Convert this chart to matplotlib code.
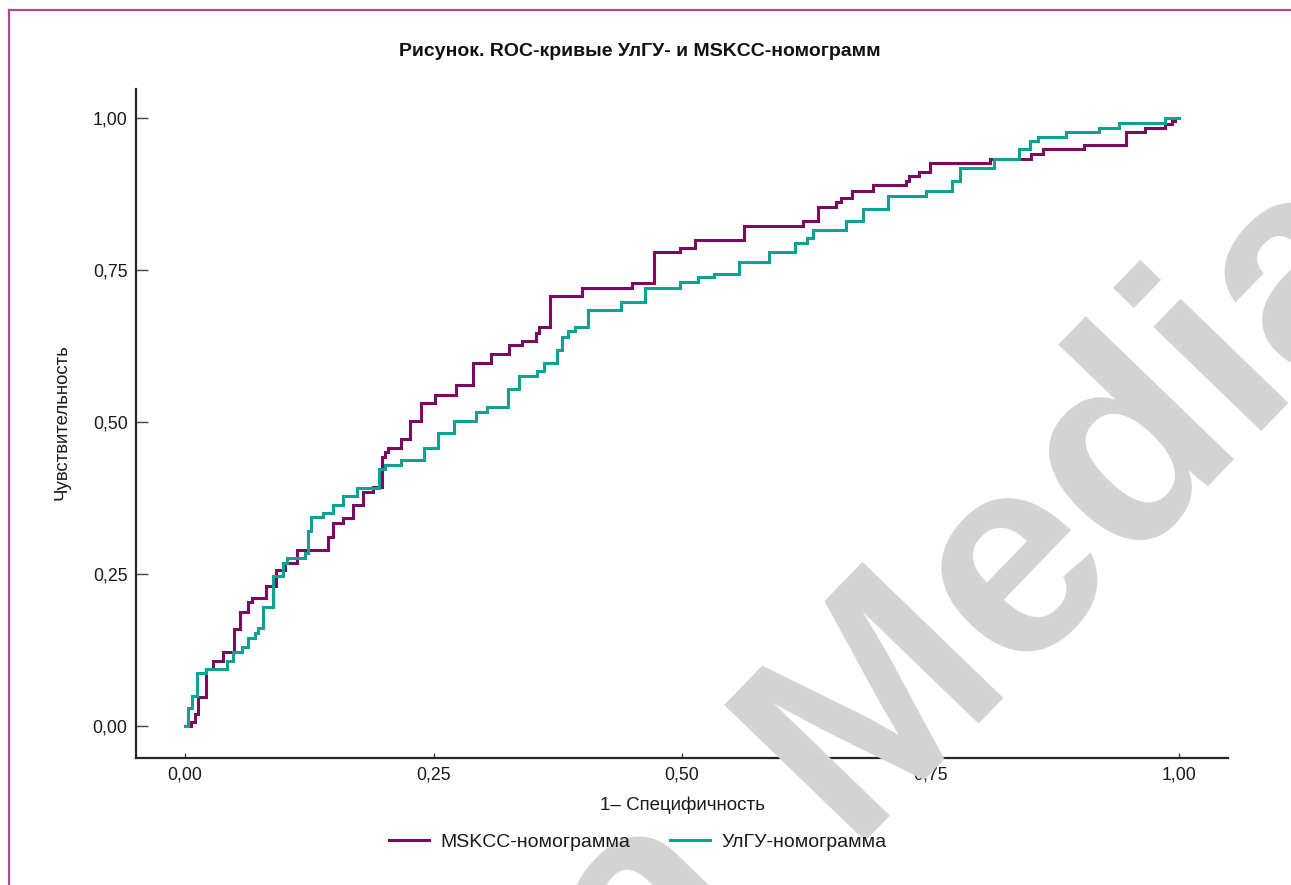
import matplotlib
matplotlib.use("Agg")
import matplotlib.pyplot as plt
from matplotlib.lines import Line2D

plt.rcParams['font.family'] = ['Liberation Sans', 'DejaVu Sans']

# ROC step corners (1 - specificity, sensitivity)
mskcc_fpr = [0.0, 0.0060, 0.0101, 0.0131, 0.0216, 0.0277, 0.0387, 0.0490, 0.0558,
             0.0637, 0.0674, 0.0815, 0.0918, 0.1011, 0.1127, 0.1442, 0.1486, 0.1593,
             0.1693, 0.1794, 0.1888, 0.1979, 0.2012, 0.2045, 0.2170, 0.2264, 0.2371,
             0.2515, 0.2726, 0.2894, 0.3078, 0.3263, 0.3393, 0.3531, 0.3564, 0.3672,
             0.3997, 0.4494, 0.4721, 0.4975, 0.5126, 0.5624, 0.6220, 0.6365, 0.6549,
             0.6597, 0.6710, 0.6924, 0.7254, 0.7284, 0.7384, 0.7495, 0.8099, 0.8508,
             0.8629, 0.9044, 0.9467, 0.9651, 0.9859, 0.9926, 0.9960, 1.0]
mskcc_tpr = [0.0, 0.0061, 0.0197, 0.0485, 0.0938, 0.1077, 0.1217, 0.1604, 0.1875,
             0.2039, 0.2105, 0.2311, 0.2558, 0.2681, 0.2895, 0.3113, 0.3334, 0.3416,
             0.3635, 0.3854, 0.3936, 0.4429, 0.4515, 0.4581, 0.4720, 0.5021, 0.5308,
             0.5444, 0.5609, 0.5965, 0.6113, 0.6261, 0.6332, 0.6469, 0.6557, 0.7067,
             0.7209, 0.7281, 0.7791, 0.7870, 0.8002, 0.8229, 0.8306, 0.8531, 0.8614,
             0.8684, 0.8804, 0.8903, 0.8969, 0.9051, 0.9112, 0.9265, 0.9331, 0.9403,
             0.9485, 0.9551, 0.9765, 0.9840, 0.9901, 0.9959, 1.0, 1.0]

ulgu_fpr = [0.0, 0.0033, 0.0075, 0.0118, 0.0211, 0.0420, 0.0480, 0.0570, 0.0637,
            0.0704, 0.0737, 0.0782, 0.0888, 0.0989, 0.1023, 0.1207, 0.1240, 0.1263,
            0.1385, 0.1484, 0.1593, 0.1727, 0.1947, 0.2012, 0.2168, 0.2406, 0.2548,
            0.2708, 0.2931, 0.3035, 0.3246, 0.3360, 0.3538, 0.3614, 0.3739, 0.3790,
            0.3856, 0.3927, 0.4057, 0.4386, 0.4631, 0.4977, 0.5161, 0.5325, 0.5575,
            0.5875, 0.6137, 0.6255, 0.6321, 0.6650, 0.6824, 0.7075, 0.7455, 0.7713,
            0.7797, 0.8132, 0.8393, 0.8501, 0.8584, 0.8860, 0.9195, 0.9396, 0.9859, 1.0]
ulgu_tpr = [0.0, 0.0291, 0.0498, 0.0867, 0.0933, 0.1069, 0.1217, 0.1304, 0.1452,
            0.1525, 0.1607, 0.1962, 0.2467, 0.2689, 0.2758, 0.2840, 0.3207, 0.3438,
            0.3503, 0.3640, 0.3791, 0.3923, 0.4222, 0.4301, 0.4375, 0.4572, 0.4819,
            0.5011, 0.5169, 0.5252, 0.5535, 0.5752, 0.5834, 0.5965, 0.6189, 0.6403,
            0.6500, 0.6558, 0.6837, 0.6979, 0.7204, 0.7303, 0.7380, 0.7439, 0.7632,
            0.7791, 0.7939, 0.8021, 0.8158, 0.8306, 0.8503, 0.8720, 0.8799, 0.8964,
            0.9173, 0.9321, 0.9485, 0.9622, 0.9692, 0.9765, 0.9840, 0.9913, 0.9995, 1.0]

ticks = [0.0, 0.25, 0.5, 0.75, 1.0]
tick_labels = ['0,00', '0,25', '0,50', '0,75', '1,00']

purple = '#7a0c60'
teal = '#0fa293'

fig = plt.figure(figsize=(12.91, 8.85), dpi=100)

# watermark behind everything
wm = dict(fontsize=205, fontweight='bold', color='#d3d3d3', rotation=46,
          rotation_mode='anchor', va='baseline', zorder=0)
fig.text(0.656, 0.050, 'Media', ha='left', **wm)
fig.text(0.585, -0.010, 'Bionika', ha='right', **wm)

ax = fig.add_axes([0.1053, 0.1435, 0.8459, 0.7559])
ax.patch.set_alpha(0)

ax.plot(mskcc_fpr, mskcc_tpr, drawstyle='steps-post', color=purple, lw=2.2,
        label='MSKCC-номограмма', solid_joinstyle='miter')
ax.plot(ulgu_fpr, ulgu_tpr, drawstyle='steps-post', color=teal, lw=2.2,
        label='УлГУ-номограмма', solid_joinstyle='miter')

ax.set_xlim(-0.0493, 1.049)
ax.set_ylim(-0.0526, 1.0477)
ax.set_xticks(ticks)
ax.set_xticklabels(tick_labels)
ax.set_yticks(ticks)
ax.set_yticklabels(tick_labels)

for s in ['top', 'right']:
    ax.spines[s].set_visible(False)
for s in ['left', 'bottom']:
    ax.spines[s].set_color('#262626')
    ax.spines[s].set_linewidth(1.6)

ax.tick_params(axis='y', direction='in', length=8.5, width=1.0, color='#444444',
               labelsize=12.8, pad=6, labelcolor='#1a1a1a')
ax.tick_params(axis='x', direction='in', length=3.8, width=1.0, color='#444444',
               labelsize=12.8, pad=6, labelcolor='#1a1a1a')

fig.text(683 / 1291, 1 - 805 / 885, '1\u2013 Специфичность', ha='center', va='center',
         fontsize=13.5, color='#1a1a1a')
fig.text(62 / 1291, 1 - 422 / 885, 'Чувствительность', ha='center', va='center',
         rotation=90, fontsize=13.4, color='#1a1a1a')
fig.text(640 / 1291, 1 - 52 / 885, 'Рисунок. ROC-кривые УлГУ- и MSKCC-номограмм',
         ha='center', va='center', fontsize=14, fontweight='bold', color='#111111')

fig.legend(loc='center', bbox_to_anchor=(638 / 1291, 1 - 842 / 885), ncol=2,
           frameon=False, fontsize=14, handlelength=2.06, handletextpad=0.57,
           columnspacing=2.06, labelcolor='#1a1a1a')

# page frame (left and top edges)
fig.add_artist(Line2D([9 / 1291, 9 / 1291], [0, 1 - 9.5 / 885], color='#a64f90', lw=1.6,
                      transform=fig.transFigure))
fig.add_artist(Line2D([9 / 1291, 1], [1 - 9.5 / 885, 1 - 9.5 / 885], color='#a64f90',
                      lw=1.6, transform=fig.transFigure))

fig.savefig('out.png', dpi=100)
